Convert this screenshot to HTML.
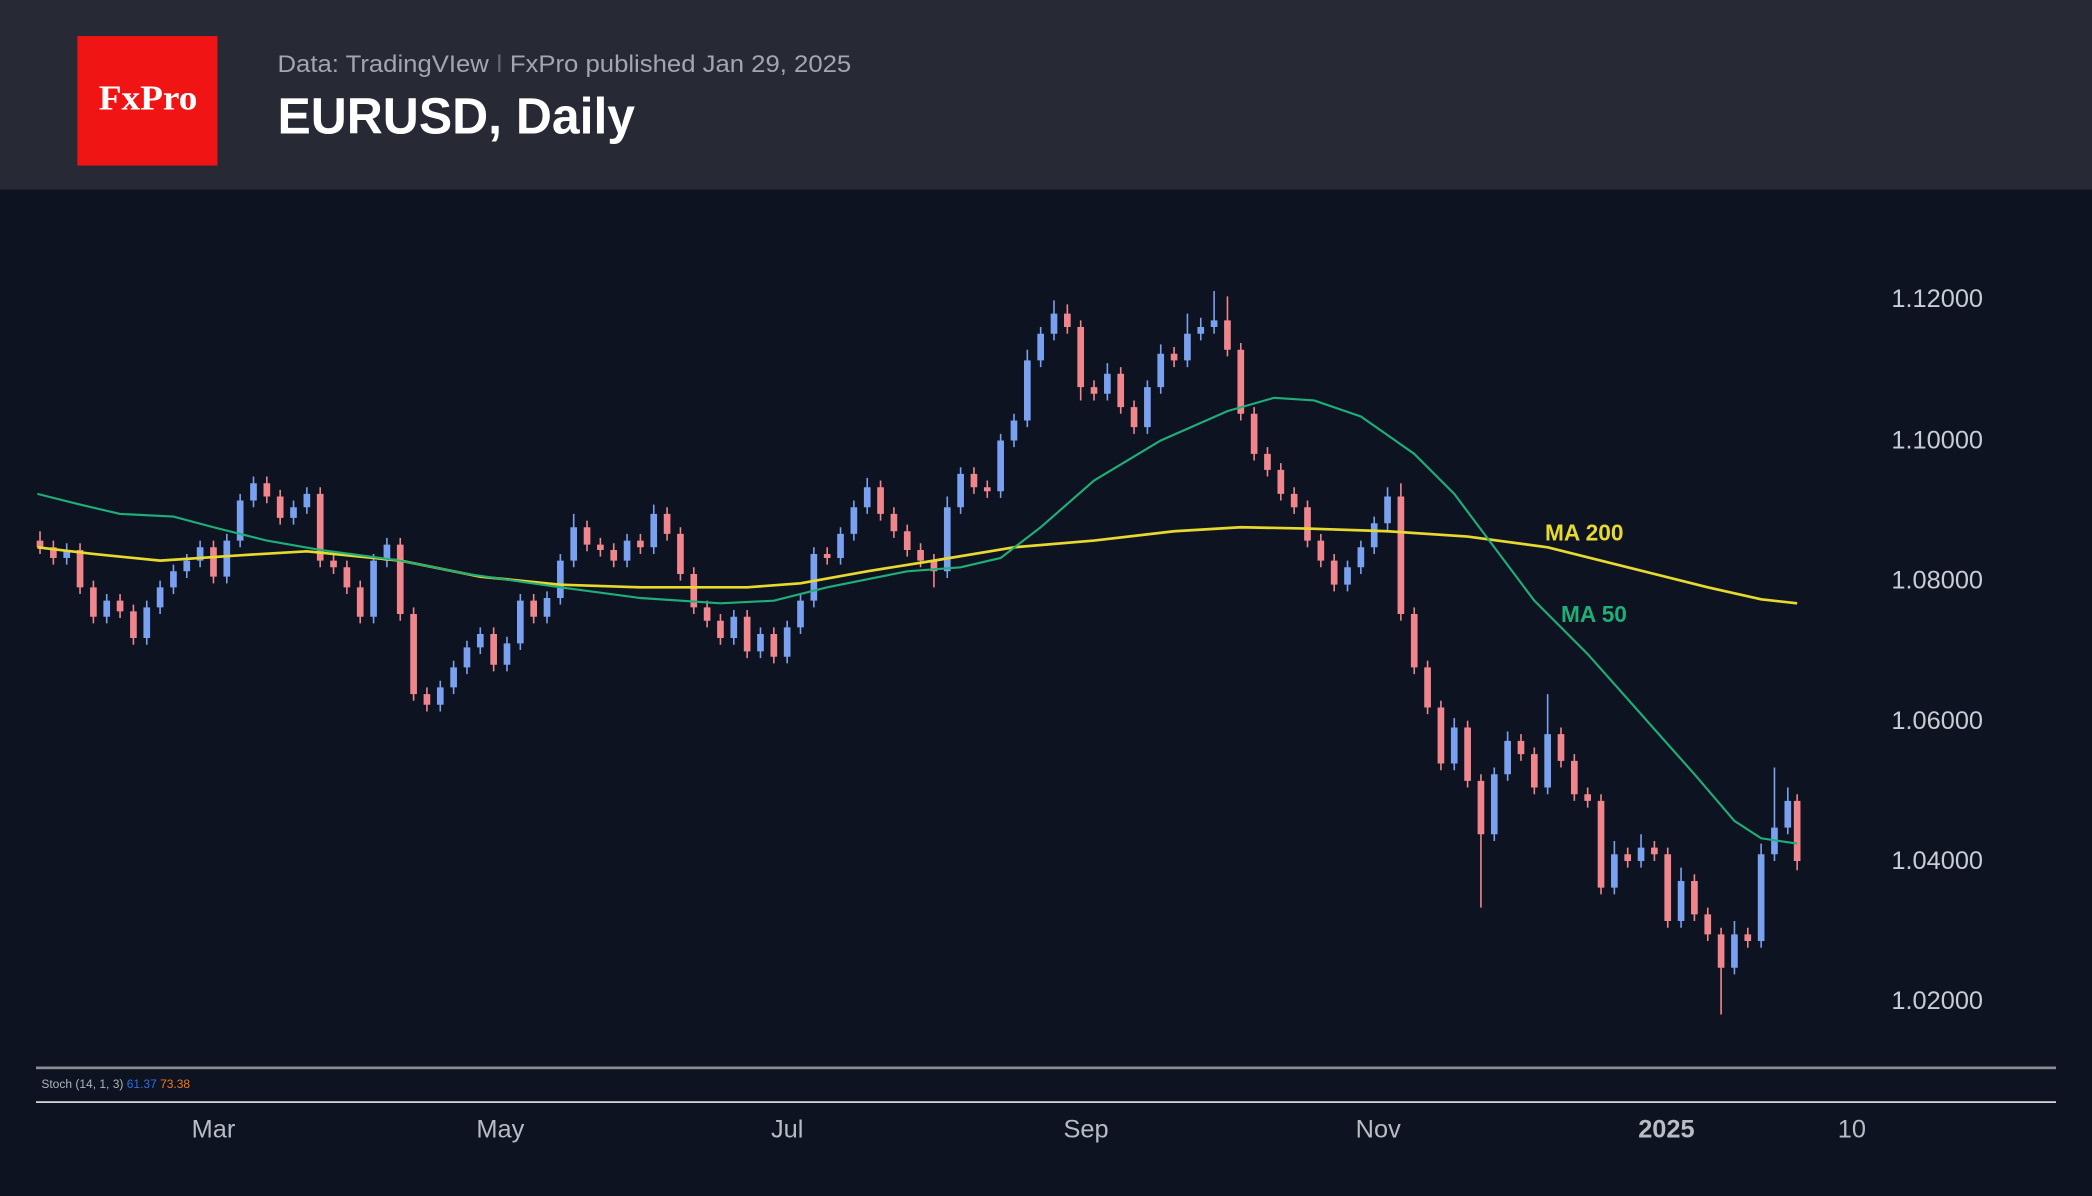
<!DOCTYPE html>
<html><head><meta charset="utf-8"><style>
html,body{margin:0;padding:0;background:#0d1320;width:2092px;height:1196px;overflow:hidden}
svg{display:block}
</style></head><body>
<svg width="2092" height="1196" viewBox="0 0 1568 896" preserveAspectRatio="none" xmlns="http://www.w3.org/2000/svg" font-family="Liberation Sans, sans-serif">
<rect x="0" y="0" width="1568" height="896" fill="#0d1320"/>
<rect x="0" y="0" width="1568" height="142" fill="#272a35"/>
<rect x="58" y="27" width="105" height="97" fill="#f01414"/>
<text x="111" y="82" fill="#fff" style="font-family:'Liberation Serif',serif" font-size="26" font-weight="bold" text-anchor="middle" textLength="74" lengthAdjust="spacingAndGlyphs">FxPro</text>
<text x="208" y="54" fill="#a3a6ae" font-size="18" textLength="430" lengthAdjust="spacingAndGlyphs">Data: TradingVIew <tspan fill="#666a74">ǀ</tspan> FxPro published Jan 29, 2025</text>
<text x="208" y="100" fill="#ffffff" font-size="38" font-weight="bold" textLength="268" lengthAdjust="spacingAndGlyphs">EURUSD, Daily</text>

<g fill="none" stroke-linecap="butt">
<path stroke="#7aa0f0" stroke-width="1.2" d="M50 407V423 M80 445V467 M110 450V483 M120 435V460 M130 423V445 M140 415V433 M150 405V425 M170 400V437 M180 370V410 M190 357V380 M220 375V393 M230 365V385 M280 415V467 M290 403V425 M330 510V533 M340 495V520 M350 480V505 M360 470V490 M380 477V503 M390 445V487 M410 443V467 M420 415V453 M430 385V425 M470 400V425 M490 378V415 M550 457V483 M570 470V493 M590 465V497 M600 445V475 M610 410V455 M630 395V423 M640 375V405 M650 358V385 M710 372V433 M720 350V385 M750 325V373 M760 310V335 M770 262V320 M780 245V275 M790 225V255 M830 272V300 M860 285V325 M870 258V295 M890 235V275 M900 238V255 M910 218V250 M1010 420V443 M1020 405V430 M1030 387V415 M1040 365V397 M1090 538V577 M1120 575V630 M1130 548V585 M1160 520V595 M1210 630V670 M1230 625V650 M1260 650V695 M1300 690V730 M1320 632V710 M1330 575V645 M1340 590V625"/>
<path stroke="#7aa0f0" stroke-width="5" d="M50 412V418 M80 450V462 M110 455V478 M120 440V455 M130 428V440 M140 420V428 M150 410V420 M170 405V432 M180 375V405 M190 362V375 M220 380V388 M230 370V380 M280 420V462 M290 408V420 M330 515V528 M340 500V515 M350 485V500 M360 475V485 M380 482V498 M390 450V482 M410 448V462 M420 420V448 M430 395V420 M470 405V420 M490 385V410 M550 462V478 M570 475V488 M590 470V492 M600 450V470 M610 415V450 M630 400V418 M640 380V400 M650 365V380 M710 380V428 M720 355V380 M750 330V368 M760 315V330 M770 270V315 M780 250V270 M790 235V250 M830 280V295 M860 290V320 M870 265V290 M890 250V270 M900 245V250 M910 240V245 M1010 425V438 M1020 410V425 M1030 392V410 M1040 372V392 M1090 545V572 M1120 580V625 M1130 555V580 M1160 550V590 M1210 640V665 M1230 635V645 M1260 660V690 M1300 700V725 M1320 640V705 M1330 620V640 M1340 600V620"/>
<path stroke="#f0868c" stroke-width="1.2" d="M30 398V415 M40 405V423 M60 407V445 M70 435V467 M90 445V463 M100 453V483 M160 405V437 M200 357V377 M210 367V393 M240 365V425 M250 415V430 M260 420V445 M270 435V467 M300 403V465 M310 455V525 M320 515V533 M370 470V503 M400 445V467 M440 390V413 M450 403V417 M460 407V425 M480 400V415 M500 380V405 M510 395V435 M520 425V460 M530 450V470 M540 460V483 M560 457V493 M580 470V497 M620 410V423 M660 360V390 M670 380V403 M680 393V417 M690 407V425 M700 415V440 M730 350V370 M740 360V373 M800 228V250 M810 240V300 M820 285V300 M840 275V310 M850 300V325 M880 260V275 M920 222V267 M930 257V315 M940 305V345 M950 335V357 M960 347V375 M970 365V385 M980 375V410 M990 400V425 M1000 415V443 M1050 362V465 M1060 455V505 M1070 495V535 M1080 525V577 M1100 540V590 M1110 580V680 M1140 550V570 M1150 560V595 M1170 545V575 M1180 565V600 M1190 590V605 M1200 595V670 M1220 635V650 M1240 630V645 M1250 635V695 M1270 655V690 M1280 680V705 M1290 695V760 M1310 695V710 M1347 595V652"/>
<path stroke="#f0868c" stroke-width="5" d="M30 405V410 M40 410V418 M60 412V440 M70 440V462 M90 450V458 M100 458V478 M160 410V432 M200 362V372 M210 372V388 M240 370V420 M250 420V425 M260 425V440 M270 440V462 M300 408V460 M310 460V520 M320 520V528 M370 475V498 M400 450V462 M440 395V408 M450 408V412 M460 412V420 M480 405V410 M500 385V400 M510 400V430 M520 430V455 M530 455V465 M540 465V478 M560 462V488 M580 475V492 M620 415V418 M660 365V385 M670 385V398 M680 398V412 M690 412V420 M700 420V428 M730 355V365 M740 365V368 M800 235V245 M810 245V290 M820 290V295 M840 280V305 M850 305V320 M880 265V270 M920 240V262 M930 262V310 M940 310V340 M950 340V352 M960 352V370 M970 370V380 M980 380V405 M990 405V420 M1000 420V438 M1050 372V460 M1060 460V500 M1070 500V530 M1080 530V572 M1100 545V585 M1110 585V625 M1140 555V565 M1150 565V590 M1170 550V570 M1180 570V595 M1190 595V600 M1200 600V665 M1220 640V645 M1240 635V640 M1250 640V690 M1270 660V685 M1280 685V700 M1290 700V725 M1310 700V705 M1347 600V645"/>
</g>

<polyline fill="none" stroke="#e8d92e" stroke-width="2" points="28,410 70,415 120,420 180,416 230,413 300,420 360,432 420,438 480,440 560,440 600,437 650,428 700,420 760,410 820,405 880,398 930,395 980,396 1040,398 1100,402 1160,410 1220,425 1280,440 1320,449 1347,452"/>
<polyline fill="none" stroke="#1fae78" stroke-width="1.6" points="28,370 60,378 90,385 130,387 160,395 200,405 240,412 300,420 350,430 420,440 480,448 540,452 580,450 620,440 680,428 720,425 750,418 780,395 820,360 870,330 920,308 955,298 985,300 1020,312 1060,340 1090,370 1120,410 1150,450 1190,490 1230,535 1270,580 1300,615 1320,628 1347,632"/>
<text x="1158" y="405" fill="#e8d92e" font-size="17" font-weight="bold">MA 200</text>
<text x="1170" y="466" fill="#1fae78" font-size="17" font-weight="bold">MA 50</text>
<g fill="#c8ccd4" font-size="19" text-anchor="middle">
<text x="1452" y="230">1.12000</text><text x="1452" y="336">1.10000</text><text x="1452" y="441">1.08000</text>
<text x="1452" y="546">1.06000</text><text x="1452" y="651">1.04000</text><text x="1452" y="756">1.02000</text>
</g>
<rect x="27" y="799" width="1514" height="2" fill="#8a8e96"/>
<rect x="27" y="825" width="1514" height="1.3" fill="#d8dbe0"/>
<text x="31" y="815" font-size="9" fill="#b0b4bc">Stoch (14, 1, 3) <tspan fill="#2f6fe0">61.37</tspan> <tspan fill="#f07a1a">73.38</tspan></text>
<g fill="#b8bcc4" font-size="19" text-anchor="middle">
<text x="160" y="852">Mar</text><text x="375" y="852">May</text><text x="590" y="852">Jul</text>
<text x="814" y="852">Sep</text><text x="1033" y="852">Nov</text><text x="1249" y="852" font-weight="bold">2025</text><text x="1388" y="852">10</text>
</g>
</svg>
</body></html>
